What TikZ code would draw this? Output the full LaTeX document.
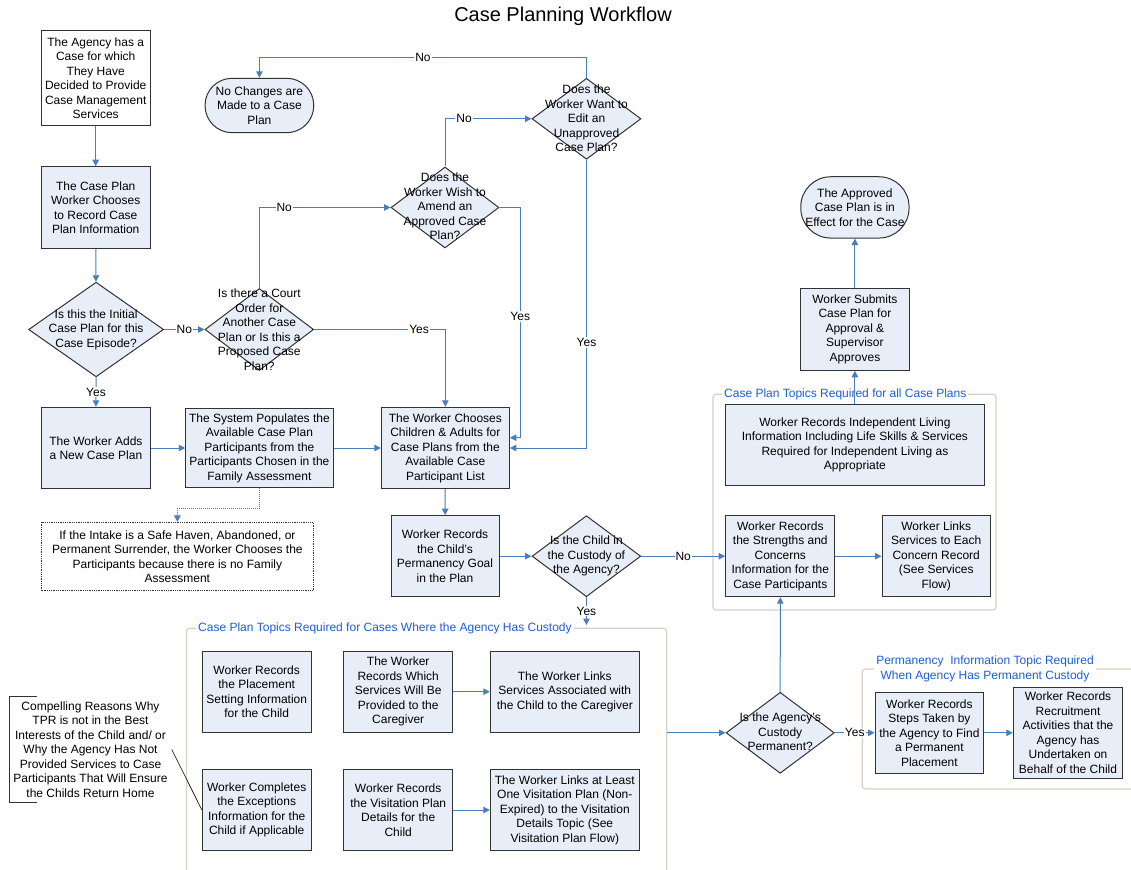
\documentclass[tikz,border=0pt]{standalone}
\usepackage{fontspec}
\setmainfont{Liberation Sans}
\usetikzlibrary{shapes.geometric,arrows.meta,calc}
\definecolor{boxfill}{RGB}{232,238,248}
\definecolor{boxline}{RGB}{50,50,50}
\definecolor{flow}{RGB}{74,126,187}
\definecolor{framegray}{RGB}{214,211,196}
\definecolor{framelbl}{RGB}{30,92,220}
\tikzset{
  txt/.style={font={\fontsize{12}{14.5}\selectfont}, align=center, inner sep=0pt},
  box/.style={txt, draw=boxline, line width=1pt, fill=boxfill},
  whitebox/.style={box, fill=white},
  term/.style={box},
  dia/.style={diamond, draw=boxline, line width=1pt, fill=boxfill, inner sep=0pt},
  conn/.style={draw=flow, line width=1pt, -{Triangle[length=6.5pt,width=6.5pt]}},
  lbl/.style={font={\fontsize{12}{14.5}\selectfont}, fill=white, inner sep=1pt, text=black},
  frame/.style={draw=framegray, line width=1.2pt, rounded corners=3pt},
  framelabel/.style={font={\fontsize{12}{14.5}\selectfont}, text=framelbl, fill=white, inner sep=2pt, align=center},
  notebox/.style={txt, draw=boxline, densely dotted, line width=0.8pt, fill=white},
}
\begin{document}
\begin{tikzpicture}[x=1pt,y=-1pt]
\useasboundingbox[fill=white] (0,0) rectangle (1131,869);

% title
\node[font={\fontsize{20}{24}\selectfont}] (title) at (563,16) {Case Planning Workflow};

% grouping frames
\draw[frame] (186.4,890) -- (186.4,628.3) -- (666.7,628.3) -- (666.7,890);
\node[framelabel, anchor=west] (custlbl) at (196,628.3) {Case Plan Topics Required for Cases Where the Agency Has Custody};
\draw[frame] (713,394.3) rectangle (996,610);
\node[framelabel, anchor=west] (alllbl) at (722,394.3) {Case Plan Topics Required for all Case Plans};
\draw[frame] (1140,669) -- (862.3,669) -- (862.3,789) -- (1140,789);
\node[framelabel, font={\fontsize{12}{15}\selectfont}] (permlbl) at (985,668.5) {Permanency\ \ Information Topic Required\\When Agency Has Permanent Custody};

% left column
\node[whitebox, minimum width=108.7pt, minimum height=94.7pt] (agency) at (95.7,78.3)
  {The Agency has a\\Case for which\\They Have\\Decided to Provide\\Case Management\\Services};
\node[box, minimum width=108.7pt, minimum height=81.6pt] (record) at (95.7,207.5)
  {The Case Plan\\Worker Chooses\\to Record Case\\Plan Information};
\node[dia, minimum width=135pt, minimum height=94.7pt] (init) at (96.1,329.5) {};
\node[txt] (init-t) at (96.1,329.5) {Is this the Initial\\Case Plan for this\\Case Episode?};
\node[box, minimum width=108.2pt, minimum height=81.4pt] (adds) at (95.9,448)
  {The Worker Adds\\a New Case Plan};

% decisions on the upper middle
\node[dia, minimum width=108.6pt, minimum height=82pt] (court) at (259.3,329.5) {};
\node[txt] (court-t) at (259.3,329.5) {Is there a Court\\Order for\\Another Case\\Plan or Is this a\\Proposed Case\\Plan?};
\node[term, rounded corners=27pt, minimum width=108.7pt, minimum height=54.4pt] (nochg) at (259.4,105.5)
  {No Changes are\\Made to a Case\\Plan};
\node[dia, minimum width=108pt, minimum height=81pt] (amend) at (445,207.5) {};
\node[txt] (amend-t) at (445,206.7) {Does the\\Worker Wish to\\Amend an\\Approved Case\\Plan?};
\node[dia, minimum width=109pt, minimum height=81pt] (edit) at (586.5,118.8) {};
\node[txt] (edit-t) at (586.5,118.5) {Does the\\Worker Want to\\Edit an\\Unapproved\\Case Plan?};

% participant selection row
\node[box, minimum width=147.3pt, minimum height=78.6pt] (sys) at (259.4,448)
  {The System Populates the\\Available Case Plan\\Participants from the\\Participants Chosen in the\\Family Assessment};
\node[box, minimum width=128pt, minimum height=81.4pt] (choose) at (445.35,448)
  {The Worker Chooses\\Children \& Adults for\\Case Plans from the\\Available Case\\Participant List};
\node[notebox, minimum width=271.2pt, minimum height=68.4pt] (note) at (177.4,556.5)
  {If the Intake is a Safe Haven, Abandoned, or\\Permanent Surrender, the Worker Chooses the\\Participants because there is no Family\\Assessment};
\node[box, minimum width=108pt, minimum height=81pt] (goal) at (445,556.2)
  {Worker Records\\the Child's\\Permanency Goal\\in the Plan};
\node[dia, minimum width=108.7pt, minimum height=81pt] (cust) at (586.4,556.2) {};
\node[txt] (cust-t) at (586.4,556.2) {Is the Child in\\the Custody of\\the Agency?};

% topics for all case plans
\node[box, minimum width=109.3pt, minimum height=81pt] (strength) at (780.3,556.2)
  {Worker Records\\the Strengths and\\Concerns\\Information for the\\Case Participants};
\node[box, minimum width=108.3pt, minimum height=81pt] (services) at (936.2,556.2)
  {Worker Links\\Services to Each\\Concern Record\\(See Services\\Flow)};
\node[box, minimum width=258.3pt, minimum height=81.3pt] (indep) at (854.9,444.7)
  {Worker Records Independent Living\\Information Including Life Skills \& Services\\Required for Independent Living as\\Appropriate};
\node[box, minimum width=108.3pt, minimum height=82pt] (submit) at (854.9,329.3)
  {Worker Submits\\Case Plan for\\Approval \&\\Supervisor\\Approves};
\node[term, rounded corners=30pt, minimum width=108.3pt, minimum height=61.3pt] (approved) at (854.9,207.4)
  {The Approved\\Case Plan is in\\Effect for the Case};

% permanent custody
\node[dia, minimum width=108.3pt, minimum height=81pt] (perm) at (780.2,732.8) {};
\node[txt] (perm-t) at (780.2,731.8) {Is the Agency's\\Custody\\Permanent?};
\node[box, minimum width=108.7pt, minimum height=81pt] (steps) at (929.4,732.8)
  {Worker Records\\Steps Taken by\\the Agency to Find\\a Permanent\\Placement};
\node[box, minimum width=109.4pt, minimum height=91pt] (recruit) at (1068,732.8)
  {Worker Records\\Recruitment\\Activities that the\\Agency has\\Undertaken on\\Behalf of the Child};

% topics where the agency has custody
\node[box, minimum width=108.6pt, minimum height=81.3pt] (place) at (256.7,691.7)
  {Worker Records\\the Placement\\Setting Information\\for the Child};
\node[box, minimum width=108.5pt, minimum height=81.3pt] (which) at (398.2,691.7)
  {The Worker\\Records Which\\Services Will Be\\Provided to the\\Caregiver};
\node[box, minimum width=149pt, minimum height=81.3pt] (linkcg) at (564.8,691.7)
  {The Worker Links\\Services Associated with\\the Child to the Caregiver};
\node[box, minimum width=108.6pt, minimum height=81.4pt] (exc) at (256.7,810)
  {Worker Completes\\the Exceptions\\Information for the\\Child if Applicable};
\node[box, minimum width=108.5pt, minimum height=81.4pt] (visit) at (398.2,810)
  {Worker Records\\the Visitation Plan\\Details for the\\Child};
\node[box, minimum width=149pt, minimum height=81.4pt] (linkvp) at (564.8,810)
  {The Worker Links at Least\\One Visitation Plan (Non-\\Expired) to the Visitation\\Details Topic (See\\Visitation Plan Flow)};

% annotation with bracket
\node[txt, inner xsep=4pt] (reason) at (90.5,749.4)
  {Compelling Reasons Why\\TPR is not in the Best\\Interests of the Child and/ or\\Why the Agency Has Not\\Provided Services to Case\\Participants That Will Ensure\\the Childs Return Home};
\draw[boxline, line width=0.9pt] (37,696) -- (9.3,696) -- (9.3,802.7) -- (37,802.7);
\draw[black, line width=0.6pt] (reason.east) -- (exc.west);

% free ends of connectors
\coordinate (nobend) at (259.4,57.7);
\coordinate (yesend) at (586.4,625);
\coordinate (cfr) at (666.7,732.8);

% connectors
\draw[conn] (agency) -- (record);
\draw[conn] (record) -- (init);
\draw[conn] (init.east) -- node[lbl]{No} (court.west);
\draw[conn] (init.south) -- node[lbl]{Yes} (adds.north);
\draw[conn] (adds) -- (sys);
\draw[conn] (sys) -- (choose);
\draw[conn] (court.east) -| node[lbl, pos=0.4]{Yes} (choose.north);
\draw[conn] (court.north) |- node[lbl, pos=0.595]{No} (amend.west);
\draw[conn] (amend.north) |- node[lbl, pos=0.61]{No} (edit.west);
\draw[conn] (edit.north) |- node[lbl, pos=0.75]{No} (nobend) -- (nochg.north);
\draw[conn] (amend.east) -| node[lbl, pos=0.737]{Yes} ($(choose.east)+(10.4,-10.3)$) -- ($(choose.east)+(0,-10.3)$);
\draw[conn] (edit.south) |- node[lbl, pos=0.317]{Yes} (choose.east);
\draw[conn, densely dotted, line width=0.8pt] (sys.south) -- ++(0,20.4) -| (note.north);
\draw[conn] (choose) -- (goal);
\draw[conn] (goal) -- (cust);
\draw[conn] (cust.east) -- node[lbl]{No} (strength.west);
\draw[conn] (cust.south) -- node[lbl]{Yes} (yesend);
\draw[conn] (strength) -- (services);
\draw[conn] (indep) -- (submit);
\draw[conn] (submit) -- (approved);
\draw[conn] (which) -- (linkcg);
\draw[conn] (visit) -- (linkvp);
\draw[conn] (cfr) -- (perm.west);
\draw[conn] (perm.north) -- (strength.south);
\draw[conn] (perm.east) -- node[lbl]{Yes} (steps.west);
\draw[conn] (steps) -- (recruit);
\end{tikzpicture}
\end{document}
